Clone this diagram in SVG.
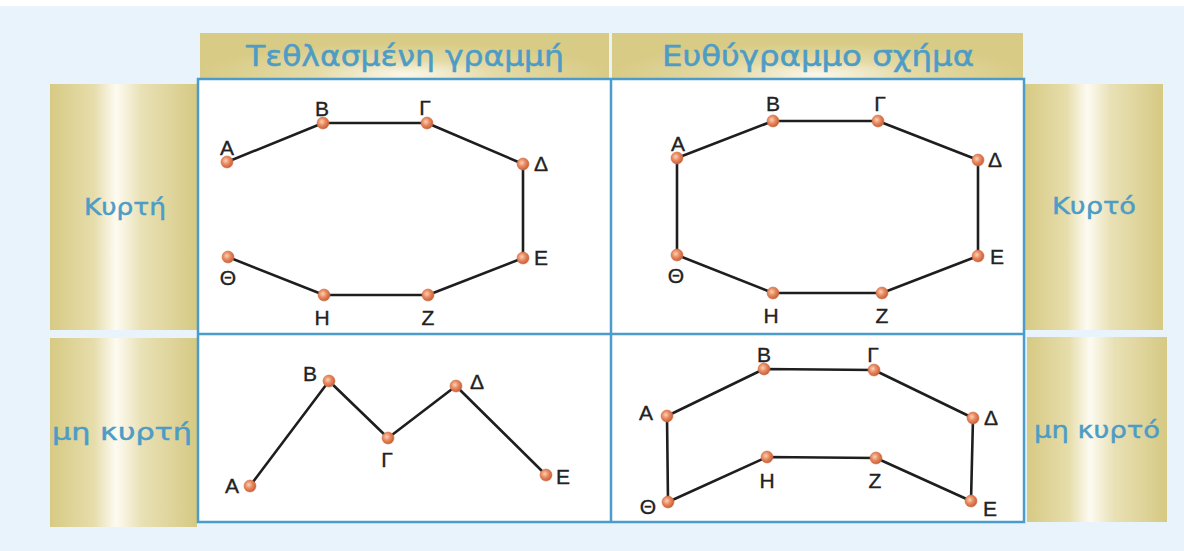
<svg xmlns="http://www.w3.org/2000/svg" width="1184" height="551" viewBox="0 0 1184 551">
<defs>
<linearGradient id="gold" x1="0" y1="0" x2="1" y2="0">
<stop offset="0" stop-color="#d7ca84"/>
<stop offset="0.3" stop-color="#e6ddab"/>
<stop offset="0.45" stop-color="#fdfbf2"/>
<stop offset="0.62" stop-color="#e9e1b6"/>
<stop offset="1" stop-color="#d6c983"/>
</linearGradient>
<radialGradient id="goldH" cx="0.5" cy="0.9" r="0.5" gradientTransform="translate(0.5 0.9) scale(1 1.4) translate(-0.5 -0.9)">
<stop offset="0" stop-color="#fbf8ec"/>
<stop offset="0.45" stop-color="#e4daa6"/>
<stop offset="1" stop-color="#d8cb85"/>
</radialGradient>
<radialGradient id="dot" cx="0.4" cy="0.4" r="0.6">
<stop offset="0" stop-color="#fbd2b8"/>
<stop offset="0.5" stop-color="#e98a60"/>
<stop offset="1" stop-color="#c9603a"/>
</radialGradient>
<style>
.hdr{font-family:"DejaVu Sans",sans-serif;font-size:28px;fill:#4d9cc6;stroke:#4d9cc6;stroke-width:0.5;text-anchor:middle}
.side{font-family:"DejaVu Sans",sans-serif;font-size:23px;fill:#4d9cc6;stroke:#4d9cc6;stroke-width:0.45;text-anchor:middle}
.lbl{font-family:"Liberation Sans",Arial,sans-serif;font-size:21px;fill:#222;stroke:#222;stroke-width:0.35;text-anchor:middle}
.ln{fill:none;stroke:#1e1e1e;stroke-width:2.6;stroke-linejoin:round}
.pt{fill:url(#dot);stroke:#d0704a;stroke-width:0.6}
.cell{fill:#fff;stroke:#4b9ccb;stroke-width:2.5}
.div{stroke:#4b9ccb;stroke-width:2.5}
</style>
</defs>
<rect width="1184" height="551" fill="#e8f3fc"/>
<rect width="1184" height="6" fill="#fff"/>

<g id="header-tethlasmeni">
<rect x="200" y="33" width="409" height="46" fill="url(#goldH)"/>
<text class="hdr" x="405" y="66" textLength="318" lengthAdjust="spacingAndGlyphs">Τεθλασμένη γραμμή</text>
</g>
<g id="header-euthygrammo">
<rect x="612" y="33" width="411" height="46" fill="url(#goldH)"/>
<text class="hdr" x="818" y="66" textLength="312" lengthAdjust="spacingAndGlyphs">Ευθύγραμμο σχήμα</text>
</g>
<g id="side-kyrti">
<rect x="50" y="84" width="147" height="246" fill="url(#gold)"/>
<text class="side" x="125" y="215" textLength="82" lengthAdjust="spacingAndGlyphs">Κυρτή</text>
</g>
<g id="side-mi-kyrti">
<rect x="50" y="338" width="147" height="189" fill="url(#gold)"/>
<text class="side" x="122" y="440" textLength="140" lengthAdjust="spacingAndGlyphs">μη κυρτή</text>
</g>
<g id="side-kyrto">
<rect x="1025" y="84" width="138" height="246" fill="url(#gold)"/>
<text class="side" x="1094" y="214" textLength="84" lengthAdjust="spacingAndGlyphs">Κυρτό</text>
</g>
<g id="side-mi-kyrto">
<rect x="1027" y="337" width="140" height="185" fill="url(#gold)"/>
<text class="side" x="1097" y="438" textLength="126" lengthAdjust="spacingAndGlyphs">μη κυρτό</text>
</g>

<g id="grid">
<rect class="cell" x="198" y="79" width="826" height="443"/>
<line class="div" x1="611" y1="79" x2="611" y2="522"/>
<line class="div" x1="198" y1="334" x2="1024" y2="334"/>
</g>

<g id="connectors">
<polyline class="ln" points="227,162 323,123 427,123 523,164 523,258 428,295 324,295 228,257"/>
<polygon class="ln" points="677,158 773,121 878,121 978,160 978,256 882,293 773,293 677,255"/>
<polyline class="ln" points="250,486 329,381 388,438 456,386 546,475"/>
<polygon class="ln" points="667,416 764,369 874,370 973,418 971,501 876,458 767,457 668,502"/>
</g>

<g id="shape-convex-polyline">
<circle class="pt" cx="227" cy="162" r="6"/><text class="lbl" x="227" y="155">Α</text>
<circle class="pt" cx="323" cy="123" r="6"/><text class="lbl" x="322" y="116">Β</text>
<circle class="pt" cx="427" cy="123" r="6"/><text class="lbl" x="425" y="115">Γ</text>
<circle class="pt" cx="523" cy="164" r="6"/><text class="lbl" x="541" y="171">Δ</text>
<circle class="pt" cx="523" cy="258" r="6"/><text class="lbl" x="541" y="265">Ε</text>
<circle class="pt" cx="428" cy="295" r="6"/><text class="lbl" x="428" y="325">Ζ</text>
<circle class="pt" cx="324" cy="295" r="6"/><text class="lbl" x="322" y="325">Η</text>
<circle class="pt" cx="228" cy="257" r="6"/><text class="lbl" x="228" y="285">Θ</text>
</g>

<g id="shape-convex-polygon">
<circle class="pt" cx="677" cy="158" r="6"/><text class="lbl" x="678" y="151">Α</text>
<circle class="pt" cx="773" cy="121" r="6"/><text class="lbl" x="773" y="111">Β</text>
<circle class="pt" cx="878" cy="121" r="6"/><text class="lbl" x="880" y="111">Γ</text>
<circle class="pt" cx="978" cy="160" r="6"/><text class="lbl" x="995" y="167">Δ</text>
<circle class="pt" cx="978" cy="256" r="6"/><text class="lbl" x="997" y="264">Ε</text>
<circle class="pt" cx="882" cy="293" r="6"/><text class="lbl" x="882" y="323">Ζ</text>
<circle class="pt" cx="773" cy="293" r="6"/><text class="lbl" x="771" y="323">Η</text>
<circle class="pt" cx="677" cy="255" r="6"/><text class="lbl" x="676" y="283">Θ</text>
</g>

<g id="shape-nonconvex-polyline">
<circle class="pt" cx="250" cy="486" r="6"/><text class="lbl" x="232" y="493">Α</text>
<circle class="pt" cx="329" cy="381" r="6"/><text class="lbl" x="310" y="381">Β</text>
<circle class="pt" cx="388" cy="438" r="6"/><text class="lbl" x="387" y="467">Γ</text>
<circle class="pt" cx="456" cy="386" r="6"/><text class="lbl" x="477" y="389">Δ</text>
<circle class="pt" cx="546" cy="475" r="6"/><text class="lbl" x="563" y="484">Ε</text>
</g>

<g id="shape-nonconvex-polygon">
<circle class="pt" cx="667" cy="416" r="6"/><text class="lbl" x="646" y="420">Α</text>
<circle class="pt" cx="764" cy="369" r="6"/><text class="lbl" x="764" y="362">Β</text>
<circle class="pt" cx="874" cy="370" r="6"/><text class="lbl" x="873" y="362">Γ</text>
<circle class="pt" cx="973" cy="418" r="6"/><text class="lbl" x="991" y="425">Δ</text>
<circle class="pt" cx="971" cy="501" r="6"/><text class="lbl" x="990" y="516">Ε</text>
<circle class="pt" cx="876" cy="458" r="6"/><text class="lbl" x="875" y="488">Ζ</text>
<circle class="pt" cx="767" cy="457" r="6"/><text class="lbl" x="767" y="488">Η</text>
<circle class="pt" cx="668" cy="502" r="6"/><text class="lbl" x="648" y="514">Θ</text>
</g>
</svg>
